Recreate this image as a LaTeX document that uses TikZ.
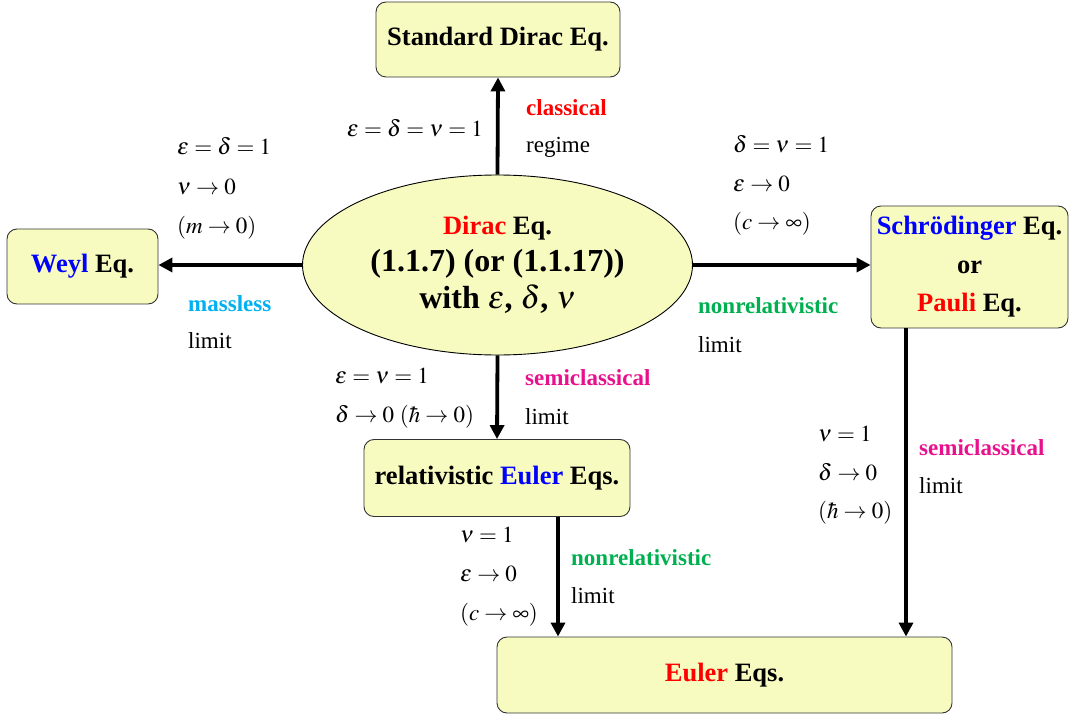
\documentclass[tikz,border=0pt]{standalone}
\usepackage{mathptmx}
\usepackage[no-math]{fontspec}
\setmainfont{Liberation Serif}
\usetikzlibrary{arrows.meta,shapes.geometric}
\definecolor{eqfill}{RGB}{248,251,192}
\definecolor{eqred}{RGB}{255,0,0}
\definecolor{eqblue}{RGB}{0,0,255}
\definecolor{eqcyan}{RGB}{0,176,240}
\definecolor{eqgreen}{RGB}{0,176,80}
\definecolor{eqmag}{RGB}{232,16,140}
\tikzset{
  eqbox/.style={draw=black!80, line width=0.9pt, fill=eqfill, rounded corners=10pt,
    inner sep=0pt, align=center, font=\fontsize{26.5}{38.5}\selectfont\bfseries},
  arr/.style={line width=3.8pt, -{Triangle[length=14pt,width=14pt]}},
  lab/.style={anchor=base west, inner sep=0pt, font=\fontsize{23}{38}\selectfont},
  labr/.style={anchor=base east, inner sep=0pt, font=\fontsize{23}{38}\selectfont},
  blab/.style={lab, font=\fontsize{23}{38}\selectfont\bfseries},
}
\begin{document}
\begin{tikzpicture}[x=1pt,y=-1pt]
\useasboundingbox (0,0) rectangle (1070,714);
% boxes
\node[eqbox, minimum width=244pt, minimum height=75pt] (std) at (498,39.5) {Standard Dirac Eq.};
\node[eqbox, minimum width=151pt, minimum height=75pt] (weyl) at (82.5,266.5) {\textcolor{eqblue}{Weyl} Eq.};
\node[eqbox, minimum width=197pt, minimum height=122pt] (schr) at (969.5,267) {\textcolor{eqblue}{Schrödinger} Eq.\\or\\\textcolor{eqred}{Pauli} Eq.};
\node[eqbox, minimum width=266pt, minimum height=77pt] (relE) at (497,478) {relativistic \textcolor{eqblue}{Euler} Eqs.};
\node[eqbox, minimum width=455pt, minimum height=76pt] (euler) at (724.5,675) {\textcolor{eqred}{Euler} Eqs.};
\node[ellipse, draw=black, line width=0.9pt, fill=eqfill, minimum width=390pt, minimum height=180pt,
  inner sep=0pt, align=center, font=\fontsize{32}{37}\selectfont\bfseries] (ell) at (497.5,265)
  {{\fontsize{26.5}{37}\selectfont\textcolor{eqred}{Dirac} Eq.}\\(1.1.7) (or (1.1.17))\\with $\varepsilon$, $\delta$, $\nu$};
% connector x positions
\coordinate (xa) at (558,0);
\coordinate (xb) at (906,0);
% arrows
\draw[arr] (ell.north) -- (std.south);
\draw[arr] (ell.west) -- (ell.west -| weyl.east);
\draw[arr] (ell.east) -- (ell.east -| schr.west);
\draw[arr] (ell.south) -- (relE.north);
\draw[arr] (relE.south -| xa) -- (euler.north -| xa);
\draw[arr] (schr.south -| xb) -- (euler.north -| xb);
% labels: top
\node[labr] (t1) at (483,137) {$\varepsilon=\delta=\nu=1$};
\node[blab, text=eqred] (t2) at (526,116) {classical};
\node[lab] (t3) at (526,153) {regime};
% upper left
\node[lab] (ul1) at (177,155) {$\varepsilon=\delta=1$};
\node[lab] (ul2) at (177,194) {$\nu\to0$};
\node[lab] (ul3) at (177,233) {$(m\to0)$};
\node[blab, text=eqcyan] (ms1) at (188,311) {massless};
\node[lab] (ms2) at (188,348) {limit};
% upper right
\node[lab] (ur1) at (733,153) {$\delta=\nu=1$};
\node[lab] (ur2) at (733,191) {$\varepsilon\to0$};
\node[lab] (ur3) at (733,229.5) {$(c\to\infty)$};
\node[blab, text=eqgreen] (nr1) at (698,313) {nonrelativistic};
\node[lab] (nr2) at (698,352) {limit};
% middle down
\node[lab] (ml1) at (335,383) {$\varepsilon=\nu=1$};
\node[lab] (ml2) at (335,422) {$\delta\to0$ $(\hbar\to0)$};
\node[blab, text=eqmag] (sc1) at (525,385) {semiclassical};
\node[lab] (sc2) at (525,424) {limit};
% right down
\node[lab] (rr1) at (818,441) {$\nu=1$};
\node[lab] (rr2) at (818,480) {$\delta\to0$};
\node[lab] (rr3) at (818,518) {$(\hbar\to0)$};
\node[blab, text=eqmag] (sd1) at (919,455) {semiclassical};
\node[lab] (sd2) at (919,493) {limit};
% bottom left
\node[lab] (bl1) at (460,542) {$\nu=1$};
\node[lab] (bl2) at (460,581) {$\varepsilon\to0$};
\node[lab] (bl3) at (460,620) {$(c\to\infty)$};
\node[blab, text=eqgreen] (nb1) at (571,565) {nonrelativistic};
\node[lab] (nb2) at (571,603) {limit};
\end{tikzpicture}
\end{document}
